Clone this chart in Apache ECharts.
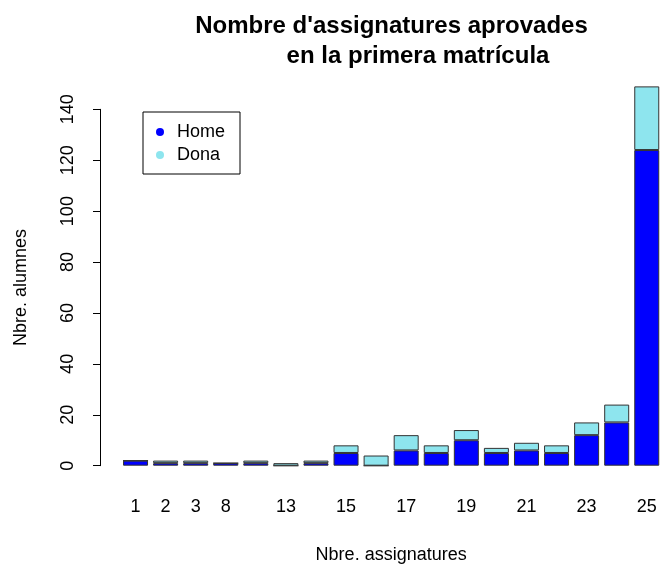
<!DOCTYPE html>
<html>
<head>
<meta charset="utf-8">
<script src="https://cdn.jsdelivr.net/npm/echarts@6/dist/echarts.min.js"></script>
<style>
  html, body { margin: 0; padding: 0; background: #fff; }
  #chart { width: 660px; height: 564px; }
</style>
</head>
<body>
<div id="chart"></div>
<script>
// Number of courses passed in first enrolment, students per count, by sex
const categories = ['1', '2', '3', '8', '12', '13', '14', '15', '16', '17', '18', '19', '20', '21', '22', '23', '24', '25'];
const home = [2, 1, 1, 1, 1, 0, 1, 5, 0, 6, 5, 10, 5, 6, 5, 12, 17, 124];
const dona = [0, 1, 1, 0, 1, 1, 1, 3, 4, 6, 3, 4, 2, 3, 3, 5, 7, 25];
// Category labels that are printed under the bars
const shownLabels = ['1', '2', '3', '8', '13', '15', '17', '19', '21', '23', '25'];
const yTicks = { min: 0, max: 140, step: 20 };

const FONT = 'Liberation Sans, Arial, sans-serif';
const pxPerUnit = 356.4 / 140;
const baseY = 465.7;
const plotLeft = 120.5;
const plotWidth = 541.3;

const chart = echarts.init(document.getElementById('chart'), null, { renderer: 'canvas' });

chart.setOption({
  animation: false,
  backgroundColor: '#ffffff',
  title: [
    {
      text: "Nombre d'assignatures aprovades",
      left: 386.5, top: 9, textAlign: 'center',
      textStyle: { fontFamily: FONT, fontWeight: 'bold', fontSize: 24, color: '#000' }
    },
    {
      text: 'en la primera matrícula',
      left: 413, top: 39, textAlign: 'center',
      textStyle: { fontFamily: FONT, fontWeight: 'bold', fontSize: 24, color: '#000' }
    }
  ],
  legend: {
    orient: 'vertical',
    left: 143, top: 112,
    data: ['Home', 'Dona'],
    icon: 'circle',
    itemWidth: 8, itemHeight: 8,
    itemGap: 5,
    padding: [11, 15, 10, 13],
    borderColor: '#000', borderWidth: 1,
    itemStyle: { borderWidth: 0 },
    textStyle: { fontFamily: FONT, fontSize: 18, color: '#000', lineHeight: 18, padding: [0, 0, 0, 8] }
  },
  grid: [
    { left: plotLeft, width: plotWidth, top: baseY - 150 * pxPerUnit, height: 150 * pxPerUnit, outerBoundsMode: 'none', containLabel: false },
    { left: plotLeft, width: plotWidth, top: baseY - 140 * pxPerUnit, height: 140 * pxPerUnit, outerBoundsMode: 'none', containLabel: false }
  ],
  xAxis: [
    {
      type: 'category', gridIndex: 0, data: categories,
      axisLine: { show: false }, axisTick: { show: false },
      axisLabel: {
        interval: (i, v) => shownLabels.includes(v),
        margin: 32, fontFamily: FONT, fontSize: 18, color: '#000'
      },
      name: 'Nbre. assignatures', nameLocation: 'middle', nameGap: 80,
      nameTextStyle: { fontFamily: FONT, fontSize: 18, color: '#000' }
    },
    { type: 'category', gridIndex: 1, data: categories, show: false }
  ],
  yAxis: [
    { type: 'value', gridIndex: 0, min: 0, max: 150, show: false },
    {
      type: 'value', gridIndex: 1, min: yTicks.min, max: yTicks.max, interval: yTicks.step,
      offset: 20.5,
      axisLine: { show: true, lineStyle: { color: '#000', width: 1 } },
      axisTick: { show: true, length: 7, lineStyle: { color: '#000' } },
      splitLine: { show: false },
      axisLabel: { rotate: 90, margin: 23, fontFamily: FONT, fontSize: 18, color: '#000' },
      name: 'Nbre. alumnes', nameLocation: 'middle', nameGap: 70, nameRotate: 90,
      nameTextStyle: { fontFamily: FONT, fontSize: 18, color: '#000' }
    }
  ],
  series: [
    {
      name: 'Home', type: 'bar', stack: 'total', xAxisIndex: 0, yAxisIndex: 0,
      data: home, barWidth: 25,
      itemStyle: { color: '#0000ff', borderColor: '#333', borderWidth: 1 }
    },
    {
      name: 'Dona', type: 'bar', stack: 'total', xAxisIndex: 0, yAxisIndex: 0,
      data: dona, barWidth: 25,
      itemStyle: { color: '#8ee5ee', borderColor: '#333', borderWidth: 1 }
    }
  ]
});
</script>
</body>
</html>
